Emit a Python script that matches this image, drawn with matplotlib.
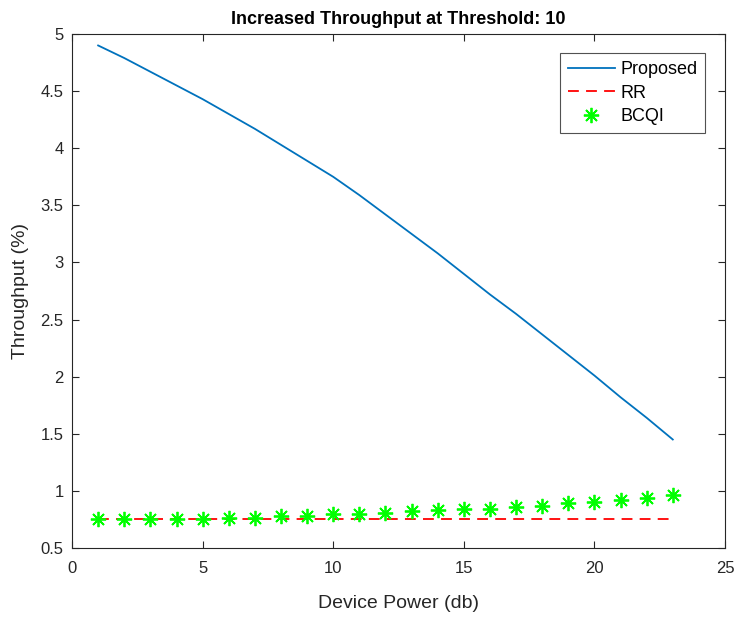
import matplotlib.pyplot as plt

# values
power = list(range(1, 24))
proposed = [4.90, 4.79, 4.67, 4.55, 4.43, 4.30, 4.17, 4.03, 3.89, 3.75, 3.59, 3.42,
            3.25, 3.08, 2.90, 2.72, 2.55, 2.37, 2.19, 2.01, 1.82, 1.64, 1.45]
rr = [0.75] * 23
bcqi = [0.75, 0.75, 0.75, 0.75, 0.75, 0.765, 0.765, 0.78, 0.78, 0.795, 0.795, 0.81,
        0.82, 0.835, 0.845, 0.845, 0.86, 0.87, 0.895, 0.905, 0.92, 0.935, 0.96]

plt.rcParams['font.family'] = ['Liberation Sans', 'DejaVu Sans']

fig = plt.figure(figsize=(7.44, 6.19), dpi=100)
ax = fig.add_axes([0.0968, 0.1147, 0.8777, 0.8303])

ax.plot(power, proposed, color='#0072BD', lw=1.3, label='Proposed')
ax.plot(power, rr, color='#FF0000', lw=1.3, ls=(0, (6, 4)), label='RR')
ax.plot(power, bcqi, ls='none', marker=(8, 2, 0), color='#00FF00', ms=11, mew=1.3, label='BCQI')

ax.set_xlim(0, 25)
ax.set_ylim(0.5, 5)
ax.set_xticks([0, 5, 10, 15, 20, 25])
ax.set_yticks([0.5, 1, 1.5, 2, 2.5, 3, 3.5, 4, 4.5, 5])
ax.set_yticklabels(['0.5', '1', '1.5', '2', '2.5', '3', '3.5', '4', '4.5', '5'])
ax.tick_params(direction='in', top=True, right=True, length=5, labelsize=12, colors='#262626')
ax.tick_params(axis='x', pad=9)
ax.tick_params(axis='y', pad=6)
for s in ax.spines.values():
    s.set_color('#262626')
    s.set_linewidth(0.8)

ax.set_xlabel('Device Power (db)', fontsize=14, color='#262626', labelpad=14)
ax.set_ylabel('Throughput (%)', fontsize=14, color='#262626', labelpad=8)
ax.set_title('Increased Throughput at Threshold: 10', fontsize=13, fontweight='bold', pad=7)

leg = ax.legend(loc='upper right', bbox_to_anchor=(0.97, 0.963), fontsize=13, frameon=True,
                fancybox=False, edgecolor='#262626', handlelength=2.6, borderpad=0.45,
                labelspacing=0.35, handletextpad=0.3, borderaxespad=0.0)
leg.get_frame().set_linewidth(0.8)

fig.savefig('out.png', dpi=100)
